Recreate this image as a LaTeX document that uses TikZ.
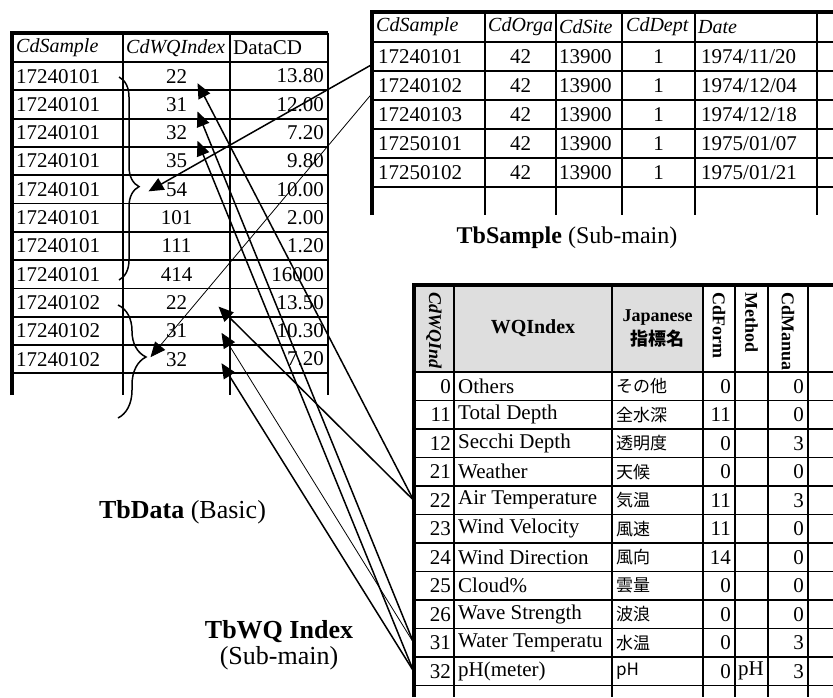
\documentclass[tikz,border=0pt]{standalone}
\usepackage{fontspec}
\setmainfont{Liberation Serif}
\newfontfamily\jafont{Noto Sans CJK JP}
\usepackage{tikz}
\usetikzlibrary{positioning,calc,arrows.meta,decorations.pathreplacing}

\begin{document}
\begin{tikzpicture}[x=1pt, y=-1pt, >={Triangle[length=15pt,width=13pt]},
  every node/.style={font=\fontsize{21}{24}\selectfont, inner sep=0pt},
  tabline/.style={line width=1.8pt},
  tabedge/.style={line width=3.2pt},
  hd/.style={font=\fontsize{20}{22}\selectfont\itshape},
  vhd/.style={font=\fontsize{18}{20}\selectfont\bfseries, rotate=-90, anchor=west},
  ja/.style={font=\fontsize{17}{20}\selectfont\jafont},
  lbl/.style={font=\fontsize{26}{26}\selectfont},
  link/.style={<-, line width=1.5pt},
  thinlink/.style={<-, line width=0.8pt},
  brc/.style={line width=1.5pt, decorate}]
\useasboundingbox (0,0) rectangle (833,697);

% TbData (Basic)
\foreach \i in {0,...,11}
  \draw[tabline] (12,{62+28.3*\i}) -- (328,{62+28.3*\i});
\foreach \x in {123,230,328}
  \draw[tabline] (\x,33) -- (\x,395);
\draw[tabedge] (12,395) -- (12,33) -- (328,33);
\node[hd, anchor=west] at (16,48) {CdSample};
\node[hd, anchor=west] at (126,48) {CdWQIndex};
\node[anchor=west] at (233,48) {DataCD};
\foreach \smp/\wq/\val [count=\i] in {17240101/22/13.80, 17240101/31/12.00,
    17240101/32/7.20, 17240101/35/9.80, 17240101/54/10.00, 17240101/101/2.00,
    17240101/111/1.20, 17240101/414/16000, 17240102/22/13.50,
    17240102/31/10.30, 17240102/32/7.20}{
  \node[anchor=west] at (16,{62+28.3*(\i-0.5)}) {\smp};
  \node (d\i) at (176.5,{62+28.3*(\i-0.5)}) {\wq};
  \node[anchor=east] at (324,{62+28.3*(\i-0.5)}) {\val};
}
\coordinate (b1top) at (119,77);
\coordinate (b1bot) at (119,280);
\coordinate (b2top) at (118,305);
\coordinate (b2bot) at (118,418);
\draw[brc, decoration={brace, amplitude=20pt, aspect=0.54}] (b1top) -- (b1bot);
\draw[brc, decoration={brace, amplitude=28pt, aspect=0.46}] (b2top) -- (b2bot);

% TbSample (Sub-main)
\foreach \i in {0,...,5}
  \draw[tabline] (372,{42+29*\i}) -- (833,{42+29*\i});
\foreach \x in {485,556,622,695,817}
  \draw[tabline] (\x,12) -- (\x,215);
\draw[tabedge] (372,215) -- (372,12) -- (833,12);
\node[hd, anchor=west] at (376,27) {CdSample};
\node[hd, anchor=west] at (488,27) {CdOrga};
\node[hd, anchor=west] at (559,27) {CdSite};
\node[hd, anchor=west] at (626,27) {CdDept};
\node[hd, anchor=west] at (698,27) {Date};
\node[anchor=west, inner xsep=6pt] (s1) at (372,56.5) {17240101};
\node[anchor=west, inner xsep=6pt] (s2) at (372,85.5) {17240102};
\node[anchor=west, inner xsep=6pt] (s3) at (372,114.5) {17240103};
\node[anchor=west, inner xsep=6pt] (s4) at (372,143.5) {17250101};
\node[anchor=west, inner xsep=6pt] (s5) at (372,172.5) {17250102};
\node[anchor=west] at (701,56.5) {1974/11/20};
\node[anchor=west] at (701,85.5) {1974/12/04};
\node[anchor=west] at (701,114.5) {1974/12/18};
\node[anchor=west] at (701,143.5) {1975/01/07};
\node[anchor=west] at (701,172.5) {1975/01/21};
\foreach \i in {1,...,5}{
  \node at (520.5,{42+29*(\i-0.5)}) {42};
  \node[anchor=west] at (559,{42+29*(\i-0.5)}) {13900};
  \node at (658.5,{42+29*(\i-0.5)}) {1};
}
\node[lbl, font=\fontsize{24}{24}\selectfont] (tbsample) at (567,238) {\textbf{TbSample} (Sub-main)};

% TbWQ Index (Sub-main)
\fill[black!13] (414,285) rectangle (703,372);
\foreach \i in {0,...,11}
  \draw[tabline] (414,{372+28.5*\i}) -- (833,{372+28.5*\i});
\foreach \x in {454,612,703,735,768,808}
  \draw[tabline] (\x,285) -- (\x,697);
\draw[tabedge] (414,697) -- (414,285) -- (833,285);
\node[vhd, font=\fontsize{18}{20}\selectfont\bfseries\itshape] at (434,292) {CdWQInd};
\node[font=\fontsize{20}{24}\selectfont\bfseries] at (533,328) {WQIndex};
\node[align=center, font=\fontsize{18}{24}\selectfont\bfseries] at (657.5,328) {Japanese\\{\jafont 指標名}};
\node[vhd] at (719,292) {CdForm};
\node[vhd] at (751.5,292) {Method};
\node[vhd] at (788,292) {CdManua};
\foreach \n/\nm/\jp/\fm/\md/\mn [count=\i] in {0/Others/その他/0/{}/0,
    11/Total Depth/全水深/11/{}/0, 12/Secchi Depth/透明度/0/{}/3,
    21/Weather/天候/0/{}/0, 22/Air Temperature/気温/11/{}/3,
    23/Wind Velocity/風速/11/{}/0, 24/Wind Direction/風向/14/{}/0,
    25/Cloud\%/雲量/0/{}/0, 26/Wave Strength/波浪/0/{}/0,
    31/Water Temperatu/水温/0/{}/3, 32/pH(meter)/pH/0/pH/3}{
  \node[anchor=east, text width=34pt, align=right, inner xsep=3pt] (w\n) at (454,{372+28.5*(\i-0.5)}) {\n};
  \node[anchor=west] at (458,{372+28.5*(\i-0.5)}) {\nm};
  \node[ja, anchor=west] at (616,{372+28.5*(\i-0.5)}) {\jp};
  \node[anchor=east] at (731,{372+28.5*(\i-0.5)}) {\fm};
  \node[anchor=west] at (738,{372+28.5*(\i-0.5)}) {\md};
  \node[anchor=east] at (804,{372+28.5*(\i-0.5)}) {\mn};
}

\node[lbl] (tbdata) at (182.5,512) {\textbf{TbData} (Basic)};
\node[lbl, align=center] (tbwq) at (279,645) {\textbf{TbWQ Index}\\(Sub-main)};

% links between the tables
\draw[link] ($(d1)+(21,7)$) -- (w22.west);
\draw[link] ($(d9)+(42,4)$) -- (w22.west);
\draw[link] ($(d2)+(21,7)$) -- (w31.west);
\draw[thinlink] ($(d10)+(45,2)$) -- (w31.west);
\draw[link] ($(d3)+(21,8)$) -- (w32.west);
\draw[link] ($(d11)+(45,4)$) -- (w32.west);
\draw[link] ($(d5)+(-28,2)$) -- ($(s1.west)+(0,8)$);
\draw[thinlink] ($(d11)+(-26,-2)$) -- ($(s2.west)+(0,8)$);
\end{tikzpicture}
\end{document}
